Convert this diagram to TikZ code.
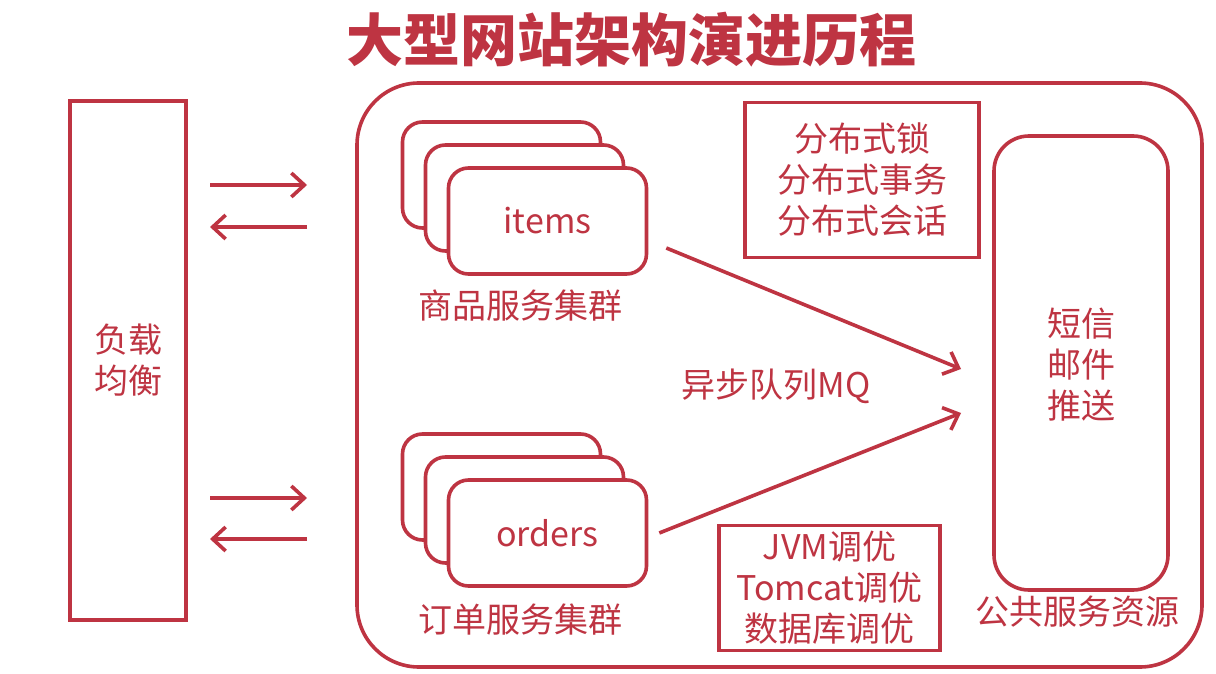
\documentclass[tikz,border=0pt]{standalone}
\usepackage{fontspec}
\setmainfont{Noto Sans CJK SC}
\usetikzlibrary{arrows.meta}
\definecolor{archred}{RGB}{190,52,66}
\begin{document}
\begin{tikzpicture}[x=1pt,y=-1pt,
    every node/.style={text=archred,inner sep=0pt},
    frame/.style={draw=archred,line width=3.6pt,fill=white},
    card/.style={frame,rounded corners=20pt,minimum width=198pt,minimum height=106pt,font=\fontsize{34}{41}\selectfont},
    lbltext/.style={font=\fontsize{34}{41}\selectfont,align=center},
    flow/.style={draw=archred,line width=3.6pt,-{Straight Barb[length=13pt,width=24pt]}}]
    \def\dx{23}
    \def\dy{23}
    \useasboundingbox (0,0) rectangle (1216,674);
    \node[font=\fontsize{57}{60}\selectfont\bfseries] (T0) at (631,40) {大型网站架构演进历程};
    \node[frame,lbltext,minimum width=116pt,minimum height=519pt] (L0) at (128,360.5) {负载\\均衡};
    \node[frame,rounded corners=62pt,minimum width=845pt,minimum height=584pt] (O0) at (779.5,375) {};
    \node[card] (I0_0) at (501.5,175) {};
    \node[card] (I0_1) at (501.5+\dx,175+\dy) {};
    \node[card] (I0_2) at (501.5+2*\dx,175+2*\dy) {items};
    \node[lbltext] (I1) at (520,306) {商品服务集群};
    \node[card] (R0_0) at (501.5,487) {};
    \node[card] (R0_1) at (501.5+\dx,487+\dy) {};
    \node[card] (R0_2) at (501.5+2*\dx,487+2*\dy) {orders};
    \node[lbltext] (R1) at (520,620) {订单服务集群};
    \node[frame,lbltext,minimum width=234pt,minimum height=155pt] (D0) at (862,180) {分布式锁\\分布式事务\\分布式会话};
    \node[frame,lbltext,minimum width=221pt,minimum height=125pt] (J0) at (829.5,588) {JVM调优\\Tomcat调优\\数据库调优};
    \node[frame,rounded corners=35pt,minimum width=174pt,minimum height=454pt] (P0) at (1081,363) {};
    \node[lbltext] (P1) at (1081,365) {短信\\邮件\\推送};
    \node[lbltext] (P2) at (1077,612) {公共服务资源};
    \node[lbltext] (M0) at (776,386) {异步队列MQ};
    \coordinate (A0_0) at (210,185);
    \coordinate (A0_1) at (307,185);
    \coordinate (A1_0) at (210,227);
    \coordinate (A1_1) at (307,227);
    \coordinate (A2_0) at (210,498);
    \coordinate (A2_1) at (307,498);
    \coordinate (A3_0) at (210,539);
    \coordinate (A3_1) at (307,539);
    \coordinate (Q0) at (961,369);
    \coordinate (Q1) at (961,413);
    \path (A0_0) edge [flow] (A0_1);
    \path (A1_1) edge [flow] (A1_0);
    \path (A2_0) edge [flow] (A2_1);
    \path (A3_1) edge [flow] (A3_0);
    \path ([xshift=18pt,yshift=-27pt]I0_2.east) edge [flow] (Q0);
    \path ([xshift=11pt]R0_2.east) edge [flow] (Q1);
\end{tikzpicture}
\end{document}
